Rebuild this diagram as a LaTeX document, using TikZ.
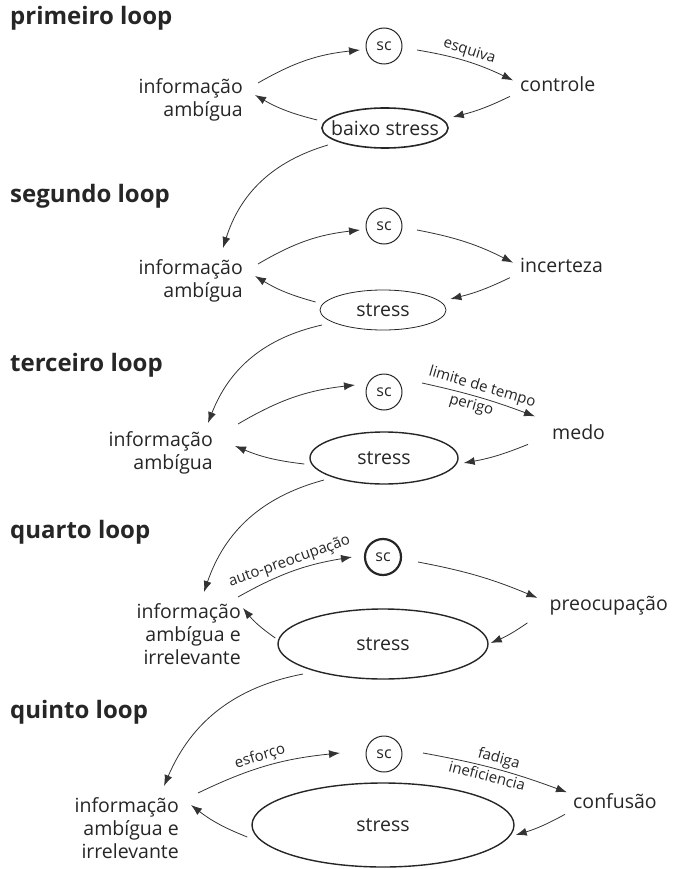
\documentclass[tikz,border=0pt]{standalone}
\usepackage{fontspec}
\setmainfont{Open Sans}
\usetikzlibrary{arrows.meta,shapes.geometric}
\begin{document}
\begin{tikzpicture}[x=1pt,y=-1pt,
  looptitle/.style={font=\fontsize{24}{28}\selectfont\bfseries, text=black!85, inner sep=0, anchor=mid west},
  lbl/.style={font=\fontsize{19.5}{23}\selectfont, text=black!85, inner sep=0},
  info/.style={lbl, align=right, anchor=east},
  small/.style={font=\fontsize{15}{17}\selectfont, text=black!85, inner sep=2.5pt},
  scnode/.style={circle, draw=black!85, line width=1pt, minimum size=36pt, inner sep=0, font=\fontsize{16}{18}\selectfont, text=black!85},
  stressring/.style={ellipse, draw=black!85, inner sep=0},
  arr/.style={draw=black!80, line width=0.8pt, -{Latex[length=11pt,width=8pt]}},
]
\useasboundingbox (0,0) rectangle (672,869);

% ---------- primeiro loop ----------
\node[looptitle] (t1) at (10,22) {primeiro loop};
\node[scnode] (sc1) at (384,46) {sc};
\node[info] (inf1) at (243,100) {informação\\ambígua};
\node[lbl, anchor=mid west] (r1) at (520,89) {controle};
\node[stressring, line width=1.6pt, minimum width=126pt, minimum height=40pt] (e1) at (385,128) {};
\node[lbl] (e1t) at (e1) {baixo stress};
\draw[arr] ([shift={(15,-17)}]inf1.east) to[bend left=12] ([shift={(-24,4)}]sc1.center);
\draw[arr] ([shift={(33,4)}]sc1.center) to[bend left=8] node[small, above, sloped] {esquiva} ([shift={(-7,-4)}]r1.west);
\draw[arr] ([shift={(-10,12)}]r1.west) to[bend left=6] ([shift={(4,-11)}]e1.east);
\draw[arr] ([shift={(-4,-8)}]e1.west) to[bend left=8] ([shift={(12,-5)}]inf1.east);

% ---------- segundo loop ----------
\node[looptitle] (t2) at (10,200) {segundo loop};
\node[scnode] (sc2) at (384,226) {sc};
\node[info] (inf2) at (243,281) {informação\\ambígua};
\node[lbl, anchor=mid west] (r2) at (520,270) {incerteza};
\node[stressring, line width=0.8pt, minimum width=126pt, minimum height=40pt] (e2) at (383,310) {};
\node[lbl] (e2t) at (e2) {stress};
\draw[arr] ([shift={(-57,17)}]e1.center) to[bend right=28] ([shift={(-20,-33)}]inf2.east);
\draw[arr] ([shift={(15,-17)}]inf2.east) to[bend left=12] ([shift={(-24,4)}]sc2.center);
\draw[arr] ([shift={(33,4)}]sc2.center) to[bend left=8] ([shift={(-7,-3)}]r2.west);
\draw[arr] ([shift={(-10,12)}]r2.west) to[bend left=6] ([shift={(4,-11)}]e2.east);
\draw[arr] ([shift={(-4,-8)}]e2.west) to[bend left=8] ([shift={(12,-5)}]inf2.east);

% ---------- terceiro loop ----------
\node[looptitle] (t3) at (10,369) {terceiro loop};
\node[scnode] (sc3) at (384,392) {sc};
\node[info] (inf3) at (213,453) {informação\\ambígua};
\node[lbl, anchor=mid west] (r3) at (552,437) {medo};
\node[stressring, line width=1.4pt, minimum width=148pt, minimum height=52pt] (e3) at (384,458) {};
\node[lbl] (e3t) at (e3) {stress};
\draw[arr] ([shift={(-61,15)}]e2.center) to[bend right=28] ([shift={(-5,-30)}]inf3.east);
\draw[arr] ([shift={(25,-29)}]inf3.east) to[bend left=12] ([shift={(-29,-7)}]sc3.center);
\draw[arr] ([shift={(38,-9)}]sc3.center) to[bend left=4]
  node[small, above, sloped] {limite de tempo}
  node[small, below, sloped, pos=0.45] {perigo} ([shift={(-17,-16)}]r3.west);
\draw[arr] ([shift={(-24,12)}]r3.west) to[bend left=6] ([shift={(5,5)}]e3.east);
\draw[arr] ([shift={(-5,6)}]e3.west) to[bend left=8] ([shift={(22,-7)}]inf3.east);

% ---------- quarto loop ----------
\node[looptitle] (t4) at (10,536) {quarto loop};
\node[scnode, line width=2.2pt] (sc4) at (383,557) {sc};
\node[info] (inf4) at (241,634) {informação\\ambígua e\\irrelevante};
\node[lbl, anchor=mid east] (r4) at (668,608) {preocupação};
\node[stressring, line width=1.4pt, minimum width=210pt, minimum height=70pt] (e4) at (383,644) {};
\node[lbl] (e4t) at (e4) {stress};
\draw[arr] ([shift={(-60,22)}]e3.center) to[bend right=28] ([shift={(-37,-42)}]inf4.east);
\draw[arr] ([shift={(-3,-37)}]inf4.east) to[bend left=10] node[small, above, sloped] {auto-preocupação} ([shift={(-31,0)}]sc4.center);
\draw[arr] ([shift={(35,5)}]sc4.center) to[bend left=6] ([shift={(-12,-8)}]r4.west);
\draw[arr] ([shift={(-22,17)}]r4.west) to[bend left=6] ([shift={(2,-1)}]e4.east);
\draw[arr] ([shift={(-2,-6)}]e4.west) to[bend left=8] ([shift={(2,-26)}]inf4.east);

% ---------- quinto loop ----------
\node[looptitle] (t5) at (10,716) {quinto loop};
\node[scnode] (sc5) at (384,754) {sc};
\node[info] (inf5) at (179,828) {informação\\ambígua e\\irrelevante};
\node[lbl, anchor=mid west] (r5) at (573,806) {confusão};
\node[stressring, line width=1.4pt, minimum width=262pt, minimum height=84pt] (e5) at (383,825) {};
\node[lbl] (e5t) at (e5) {stress};
\draw[arr] ([shift={(-80,30)}]e4.center) to[bend right=28] ([shift={(-15,-42)}]inf5.east);
\draw[arr] ([shift={(19,-35)}]inf5.east) to[bend left=10] node[small, above, sloped, pos=0.47] {esforço} ([shift={(-44,-1)}]sc5.center);
\draw[arr] ([shift={(39,-1)}]sc5.center) to[bend left=5]
  node[small, above, sloped] {fadiga}
  node[small, below, sloped, pos=0.45] {ineficiencia} ([shift={(-6,-9)}]r5.west);
\draw[arr] ([shift={(-8,13)}]r5.west) to[bend left=6] ([shift={(1,10)}]e5.east);
\draw[arr] ([shift={(-4,12)}]e5.west) to[bend left=8] ([shift={(12,-23)}]inf5.east);
\end{tikzpicture}
\end{document}
